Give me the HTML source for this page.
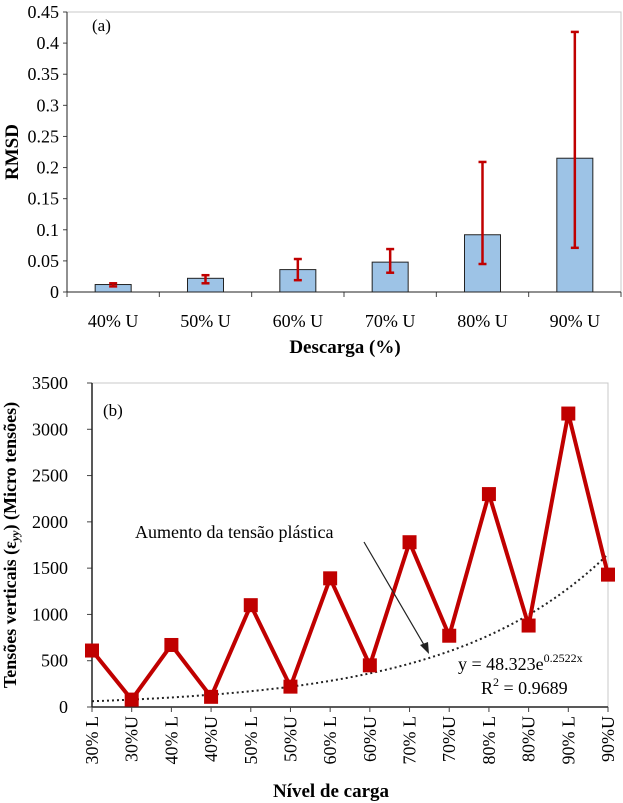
<!DOCTYPE html>
<html><head><meta charset="utf-8"><style>
body{margin:0;background:#fff;}
svg{display:block;font-family:"Liberation Serif",serif;}
</style></head><body>
<svg id="s" width="623" height="803" xmlns="http://www.w3.org/2000/svg"></svg>
<script>
const catsA=["40% U","50% U","60% U","70% U","80% U","90% U"];
const barVals=[0.012,0.022,0.036,0.048,0.092,0.215];
const errLow=[0.009,0.014,0.019,0.031,0.045,0.071];
const errHigh=[0.014,0.027,0.053,0.069,0.209,0.418];
const ticksA=[0,0.05,0.1,0.15,0.2,0.25,0.3,0.35,0.4,0.45];
const tickLabelsA=["0","0.05","0.1","0.15","0.2","0.25","0.3","0.35","0.4","0.45"];
const catsB=["30% L","30%U","40% L","40%U","50% L","50%U","60% L","60%U","70% L","70%U","80% L","80%U","90% L","90%U"];
const valsB=[610,80,670,110,1100,220,1390,450,1780,770,2300,880,3170,1430];
const ticksB=[0,500,1000,1500,2000,2500,3000,3500];
const trendA=48.323, trendB=0.2522;

const S=document.getElementById('s');
const NS="http://www.w3.org/2000/svg";
function mk(t,a,p){const e=document.createElementNS(NS,t);for(const k in a)e.setAttribute(k,a[k]);(p||S).appendChild(e);return e;}

// Chart A
const gA=mk('g',{});


const aL=67,aR=621,aT=12,aB=292;
const yA=v=>aB-(v/0.45)*(aB-aT);
const bwA=(aR-aL)/catsA.length;
const xA=i=>aL+bwA*(i+0.5);
let f=mk('rect',{x:aL,y:aT,width:aR-aL,height:aB-aT,fill:'none',stroke:'#c8c8c8'},gA);


ticksA.forEach((t,i)=>{
  mk('line',{x1:aL-4,x2:aL,y1:yA(t),y2:yA(t),stroke:'#444'},gA);
  const tx=mk('text',{x:aL-8,y:yA(t)+6,'text-anchor':'end','font-size':18},gA);
  tx.textContent=tickLabelsA[i];
  
  
});
catsA.forEach((c,i)=>{
  const b=mk('rect',{x:xA(i)-18,y:yA(barVals[i]),width:36,height:aB-yA(barVals[i]),fill:'#9dc3e6',stroke:'#222','stroke-width':1},gA);
  
  
  const eg=mk('g',{stroke:'#c00000','stroke-width':2.5},gA);
  
  
  mk('line',{x1:xA(i),x2:xA(i),y1:yA(errLow[i]),y2:yA(errHigh[i])},eg);
  mk('line',{x1:xA(i)-4,x2:xA(i)+4,y1:yA(errLow[i]),y2:yA(errLow[i])},eg);
  mk('line',{x1:xA(i)-4,x2:xA(i)+4,y1:yA(errHigh[i]),y2:yA(errHigh[i])},eg);
  const tx=mk('text',{x:xA(i),y:327,'text-anchor':'middle','font-size':18},gA);
  tx.textContent=c;
  
  
});
for(let i=0;i<=catsA.length;i++) mk('line',{x1:aL+bwA*i,x2:aL+bwA*i,y1:aB,y2:aB+5,stroke:'#444'},gA);
mk('line',{x1:aL,x2:aL,y1:aT,y2:aB,stroke:'#222'},gA);
mk('line',{x1:aL,x2:aR,y1:aB,y2:aB,stroke:'#222'},gA);
let t=mk('text',{x:92,y:31,'font-size':17},gA);t.textContent='(a)';

t=mk('text',{x:345,y:353,'text-anchor':'middle','font-size':19,'font-weight':'bold'},gA);t.textContent='Descarga (%)';

t=mk('text',{x:0,y:0,'text-anchor':'middle','font-size':19,'font-weight':'bold',transform:'translate(18,152) rotate(-90)'},gA);t.textContent='RMSD';


// Chart B
const gB=mk('g',{});


const bL=92,bR=608,bT=383,bB=707;
const yB=v=>bB-(v/3500)*(bB-bT);
const stepB=(bR-bL)/(catsB.length-1);
const xB=i=>bL+stepB*i;
f=mk('rect',{x:bL,y:bT,width:bR-bL,height:bB-bT,fill:'none',stroke:'#c8c8c8'},gB);


ticksB.forEach(v=>{
  mk('line',{x1:bL-5,x2:bL,y1:yB(v),y2:yB(v),stroke:'#444'},gB);
  const tx=mk('text',{x:bL-24,y:yB(v)+6,'text-anchor':'end','font-size':18},gB);
  tx.textContent=v;
  
  
});
mk('line',{x1:bL,x2:bL,y1:bT,y2:bB,stroke:'#222','stroke-width':1.5},gB);
mk('line',{x1:bL,x2:bR,y1:bB,y2:bB,stroke:'#222','stroke-width':1.5},gB);
catsB.forEach((c,i)=>{
  mk('line',{x1:xB(i),x2:xB(i),y1:bB,y2:bB+5,stroke:'#444'},gB);
  const tx=mk('text',{x:0,y:0,'text-anchor':'end','font-size':18,transform:`translate(${xB(i)+6},716) rotate(-90)`},gB);
  tx.textContent=c;
  
  
});
// trendline
let pts=[];
for(let k=0;k<=130;k++){const x=1+k*0.1;pts.push(xB(x-1).toFixed(1)+','+yB(trendA*Math.exp(trendB*x)).toFixed(1));}
const tr=mk('polyline',{points:pts.join(' '),fill:'none',stroke:'#222','stroke-width':2,'stroke-dasharray':'2 3'},gB);


const ln=mk('polyline',{points:valsB.map((v,i)=>xB(i)+','+yB(v)).join(' '),fill:'none',stroke:'#c00000','stroke-width':4,'stroke-linejoin':'miter'},gB);


valsB.forEach((v,i)=>{
  const m=mk('rect',{x:xB(i)-7,y:yB(v)-7,width:14,height:14,fill:'#c00000'},gB);
  
  
});
t=mk('text',{x:103,y:416,'font-size':17},gB);t.textContent='(b)';

t=mk('text',{x:135,y:538,'font-size':18},gB);t.textContent='Aumento da tensão plástica';

const ar=mk('g',{},gB);


mk('line',{x1:364,y1:542,x2:427,y2:650,stroke:'#222','stroke-width':1.2},ar);
mk('polygon',{points:'429,654 420,645 428,642',fill:'#222'},ar);
t=mk('text',{x:458,y:670,'font-size':18},gB);
t.innerHTML='y = 48.323e<tspan dy="-8" font-size="12">0.2522x</tspan>';

t=mk('text',{x:481,y:694,'font-size':18},gB);
t.innerHTML='R<tspan dy="-8" font-size="12">2</tspan><tspan dy="8"> = 0.9689</tspan>';

t=mk('text',{x:331,y:797,'text-anchor':'middle','font-size':19,'font-weight':'bold'},gB);t.textContent='Nível de carga';

t=mk('text',{x:0,y:0,'text-anchor':'middle','font-size':18,'font-weight':'bold',transform:'translate(16,545) rotate(-90)'},gB);
t.innerHTML='Tensões verticais (ε<tspan font-style="italic" font-size="12" dy="3">yy</tspan><tspan dy="-3">) (Micro tensões)</tspan>';

</script>
</body></html>
